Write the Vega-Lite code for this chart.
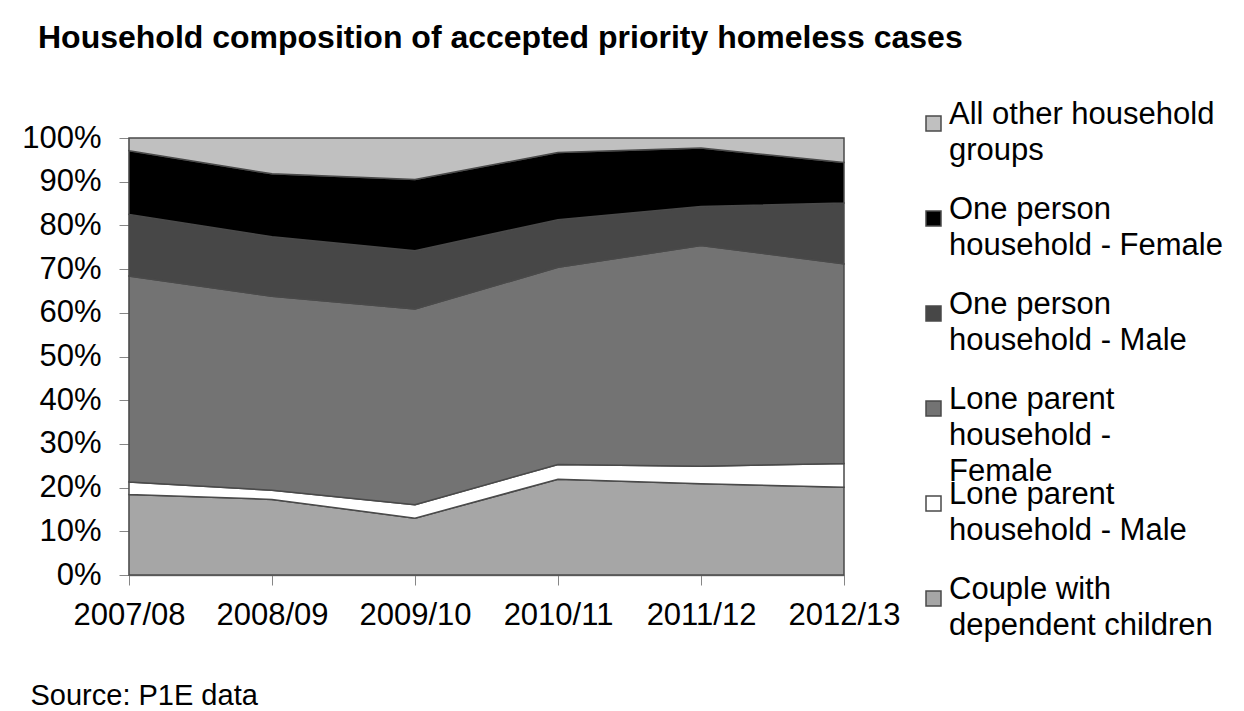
{
  "$schema": "https://vega.github.io/schema/vega-lite/v6.json",
  "width": 715,
  "height": 437,
  "padding": {"left": 21, "top": 22, "right": 5, "bottom": 5},
  "background": "white",
  "title": {
    "text": "Household composition of accepted priority homeless cases",
    "anchor": "start",
    "frame": "group",
    "dx": -91,
    "font": "Liberation Sans",
    "fontSize": 32,
    "fontWeight": "bold",
    "color": "#000000",
    "offset": 53
  },
  "data": {
    "values": [
      {"year": "2007/08", "group": "Couple with dependent children", "k": 1, "share": 0.184},
      {"year": "2007/08", "group": "Lone parent household - Male", "k": 2, "share": 0.029},
      {"year": "2007/08", "group": "Lone parent household - Female", "k": 3, "share": 0.471},
      {"year": "2007/08", "group": "One person household - Male", "k": 4, "share": 0.141},
      {"year": "2007/08", "group": "One person household - Female", "k": 5, "share": 0.146},
      {"year": "2007/08", "group": "All other household groups", "k": 6, "share": 0.029},
      {"year": "2008/09", "group": "Couple with dependent children", "k": 1, "share": 0.173},
      {"year": "2008/09", "group": "Lone parent household - Male", "k": 2, "share": 0.021},
      {"year": "2008/09", "group": "Lone parent household - Female", "k": 3, "share": 0.444},
      {"year": "2008/09", "group": "One person household - Male", "k": 4, "share": 0.136},
      {"year": "2008/09", "group": "One person household - Female", "k": 5, "share": 0.144},
      {"year": "2008/09", "group": "All other household groups", "k": 6, "share": 0.082},
      {"year": "2009/10", "group": "Couple with dependent children", "k": 1, "share": 0.130},
      {"year": "2009/10", "group": "Lone parent household - Male", "k": 2, "share": 0.031},
      {"year": "2009/10", "group": "Lone parent household - Female", "k": 3, "share": 0.448},
      {"year": "2009/10", "group": "One person household - Male", "k": 4, "share": 0.133},
      {"year": "2009/10", "group": "One person household - Female", "k": 5, "share": 0.163},
      {"year": "2009/10", "group": "All other household groups", "k": 6, "share": 0.095},
      {"year": "2010/11", "group": "Couple with dependent children", "k": 1, "share": 0.219},
      {"year": "2010/11", "group": "Lone parent household - Male", "k": 2, "share": 0.034},
      {"year": "2010/11", "group": "Lone parent household - Female", "k": 3, "share": 0.451},
      {"year": "2010/11", "group": "One person household - Male", "k": 4, "share": 0.109},
      {"year": "2010/11", "group": "One person household - Female", "k": 5, "share": 0.154},
      {"year": "2010/11", "group": "All other household groups", "k": 6, "share": 0.033},
      {"year": "2011/12", "group": "Couple with dependent children", "k": 1, "share": 0.209},
      {"year": "2011/12", "group": "Lone parent household - Male", "k": 2, "share": 0.040},
      {"year": "2011/12", "group": "Lone parent household - Female", "k": 3, "share": 0.505},
      {"year": "2011/12", "group": "One person household - Male", "k": 4, "share": 0.089},
      {"year": "2011/12", "group": "One person household - Female", "k": 5, "share": 0.134},
      {"year": "2011/12", "group": "All other household groups", "k": 6, "share": 0.023},
      {"year": "2012/13", "group": "Couple with dependent children", "k": 1, "share": 0.201},
      {"year": "2012/13", "group": "Lone parent household - Male", "k": 2, "share": 0.054},
      {"year": "2012/13", "group": "Lone parent household - Female", "k": 3, "share": 0.457},
      {"year": "2012/13", "group": "One person household - Male", "k": 4, "share": 0.139},
      {"year": "2012/13", "group": "One person household - Female", "k": 5, "share": 0.093},
      {"year": "2012/13", "group": "All other household groups", "k": 6, "share": 0.056}
    ]
  },
  "mark": {"type": "area", "stroke": "#4a4a4a", "strokeWidth": 1.5, "opacity": 1, "fillOpacity": 1},
  "encoding": {
    "x": {
      "field": "year",
      "type": "ordinal",
      "scale": {"type": "point", "padding": 0},
      "axis": {
        "labelAngle": 0,
        "labelFont": "Liberation Sans",
        "labelFontSize": 31,
        "labelColor": "#000000",
        "labelPadding": 15,
        "tickSize": 10,
        "tickColor": "#868686",
        "domainColor": "#868686",
        "domainWidth": 1.5,
        "title": "Source: P1E data",
        "titleFont": "Liberation Sans",
        "titleFontSize": 29,
        "titleFontWeight": "normal",
        "titleColor": "#000000",
        "titleAnchor": "start",
        "titleAlign": "left",
        "titleBaseline": "middle",
        "titleX": -99,
        "titleY": 120
      }
    },
    "y": {
      "field": "share",
      "type": "quantitative",
      "stack": "zero",
      "scale": {"domain": [0, 1], "nice": false},
      "axis": {
        "values": [0, 0.1, 0.2, 0.3, 0.4, 0.5, 0.6, 0.7, 0.8, 0.9, 1],
        "format": ".0%",
        "grid": false,
        "labelFont": "Liberation Sans",
        "labelFontSize": 31,
        "labelColor": "#000000",
        "labelPadding": 18,
        "tickSize": 10,
        "tickColor": "#868686",
        "domainColor": "#868686",
        "domainWidth": 1.5,
        "title": null
      }
    },
    "order": {"field": "k", "type": "quantitative"},
    "color": {
      "field": "group",
      "type": "nominal",
      "scale": {
        "domain": [
          "All other household groups",
          "One person household - Female",
          "One person household - Male",
          "Lone parent household - Female",
          "Lone parent household - Male",
          "Couple with dependent children"
        ],
        "range": ["#c0c0c0", "#000000", "#474747", "#737373", "#ffffff", "#a6a6a6"]
      },
      "legend": {
        "title": null,
        "orient": "none",
        "legendX": 789,
        "legendY": -30,
        "padding": 0,
        "gridAlign": "all",
        "symbolType": "square",
        "symbolSize": 225,
        "symbolStrokeColor": "#4a4a4a",
        "symbolStrokeWidth": 1.5,
        "symbolOpacity": 1,
        "labelFont": "Liberation Sans",
        "labelFontSize": 31,
        "labelColor": "#000000",
        "labelLimit": 500,
        "labelOffset": 0,
        "labelBaseline": "alphabetic",
        "rowPadding": -9,
        "labelExpr": "datum.label == 'All other household groups' ? ['All other household', 'groups'] : datum.label == 'One person household - Female' ? ['One person', 'household - Female'] : datum.label == 'One person household - Male' ? ['One person', 'household - Male'] : datum.label == 'Lone parent household - Female' ? ['Lone parent', 'household  -', 'Female'] : datum.label == 'Lone parent household - Male' ? ['Lone parent', 'household - Male'] : ['Couple with', 'dependent children']",
        "encode": {"labels": {"update": {"lineHeight": {"value": 36}}}}
      }
    }
  },
  "config": {"view": {"stroke": null}}
}
